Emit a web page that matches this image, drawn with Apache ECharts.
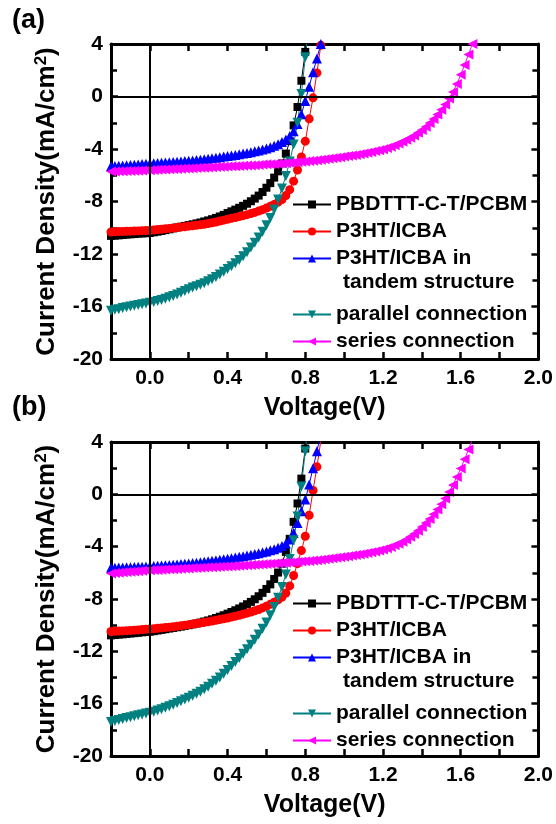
<!DOCTYPE html>
<html>
<head>
<meta charset="utf-8">
<script src="https://cdn.jsdelivr.net/npm/echarts@6/dist/echarts.min.js"></script>
<style>
  html, body { margin: 0; padding: 0; background: #fff; }
  #main { width: 556px; height: 824px; }
</style>
</head>
<body>
<div id="main"></div>
<script>
// measurement grid (V), 0.02 V steps
const voltage = [
  -0.2, -0.18, -0.16, -0.14, -0.12, -0.1, -0.08, -0.06, -0.04, -0.02,
  0, 0.02, 0.04, 0.06, 0.08, 0.1, 0.12, 0.14, 0.16, 0.18,
  0.2, 0.22, 0.24, 0.26, 0.28, 0.3, 0.32, 0.34, 0.36, 0.38,
  0.4, 0.42, 0.44, 0.46, 0.48, 0.5, 0.52, 0.54, 0.56, 0.58,
  0.6, 0.62, 0.64, 0.66, 0.68, 0.7, 0.72, 0.74, 0.76, 0.78,
  0.8, 0.82, 0.84, 0.86, 0.88, 0.9, 0.92, 0.94, 0.96, 0.98,
  1.0, 1.02, 1.04, 1.06, 1.08, 1.1, 1.12, 1.14, 1.16, 1.18,
  1.2, 1.22, 1.24, 1.26, 1.28, 1.3, 1.32, 1.34, 1.36, 1.38,
  1.4, 1.42, 1.44, 1.46, 1.48, 1.5, 1.52, 1.54, 1.56, 1.58,
  1.6, 1.62, 1.64, 1.66, 1.68
]

const names = ['PBDTTT-C-T/PCBM', 'P3HT/ICBA', 'P3HT/ICBA in tandem structure', 'parallel connection', 'series connection']

// panel (a) current density, mA/cm2
const blackA = [
  -10.62, -10.60, -10.58, -10.55, -10.52, -10.50, -10.48, -10.45, -10.43, -10.42,
  -10.40, -10.35, -10.30, -10.25, -10.18, -10.12, -10.05, -9.98, -9.92, -9.86,
  -9.80, -9.74, -9.67, -9.60, -9.52, -9.44, -9.35, -9.25, -9.14, -9.02,
  -8.88, -8.75, -8.62, -8.48, -8.33, -8.17, -7.98, -7.78, -7.55, -7.28,
  -6.95, -6.60, -6.18, -5.70, -5.10, -4.35, -3.40, -2.20, -0.80, 1.20,
  3.40, 6.00
]
const redA = [
  -10.32, -10.30, -10.29, -10.28, -10.27, -10.26, -10.25, -10.24, -10.22, -10.21,
  -10.20, -10.17, -10.14, -10.11, -10.08, -10.05, -10.02, -9.99, -9.95, -9.92,
  -9.88, -9.85, -9.81, -9.77, -9.73, -9.68, -9.62, -9.56, -9.49, -9.42,
  -9.35, -9.28, -9.22, -9.15, -9.08, -9.00, -8.92, -8.83, -8.73, -8.62,
  -8.50, -8.37, -8.22, -8.05, -7.85, -7.55, -7.10, -6.45, -5.60, -4.60,
  -3.40, -1.70, -0.10, 1.80, 3.90, 6.00
]
const blueA = [
  -5.32, -5.30, -5.28, -5.26, -5.24, -5.22, -5.20, -5.18, -5.15, -5.13,
  -5.11, -5.09, -5.07, -5.05, -5.03, -5.01, -4.99, -4.97, -4.95, -4.92,
  -4.90, -4.87, -4.84, -4.81, -4.78, -4.74, -4.70, -4.66, -4.62, -4.58,
  -4.54, -4.49, -4.45, -4.40, -4.35, -4.30, -4.24, -4.18, -4.11, -4.04,
  -3.96, -3.87, -3.76, -3.63, -3.47, -3.27, -3.00, -2.65, -2.10, -1.35,
  -0.35, 0.75, 1.85, 2.90, 4.00, 5.20
]
const tealA = [
  -16.32, -16.25, -16.20, -16.12, -16.05, -16.00, -15.95, -15.88, -15.82, -15.78,
  -15.72, -15.65, -15.58, -15.50, -15.40, -15.30, -15.20, -15.08, -14.95, -14.82,
  -14.68, -14.56, -14.45, -14.34, -14.22, -14.08, -13.92, -13.75, -13.56, -13.36,
  -13.15, -12.93, -12.70, -12.45, -12.17, -11.86, -11.50, -11.15, -10.75, -10.30,
  -9.80, -9.25, -8.60, -7.85, -7.00, -6.05, -4.95, -3.65, -2.00, 0.20,
  3.00, 6.00
]
const pinkA = [
  -5.72, -5.71, -5.70, -5.69, -5.68, -5.67, -5.66, -5.65, -5.63, -5.62,
  -5.61, -5.60, -5.58, -5.57, -5.56, -5.54, -5.53, -5.52, -5.50, -5.49,
  -5.48, -5.46, -5.45, -5.43, -5.42, -5.41, -5.39, -5.38, -5.36, -5.35,
  -5.34, -5.32, -5.31, -5.29, -5.28, -5.26, -5.25, -5.23, -5.21, -5.19,
  -5.17, -5.16, -5.14, -5.12, -5.10, -5.08, -5.06, -5.03, -5.01, -4.98,
  -4.95, -4.92, -4.89, -4.86, -4.82, -4.78, -4.74, -4.70, -4.66, -4.62,
  -4.58, -4.54, -4.49, -4.45, -4.40, -4.35, -4.29, -4.23, -4.16, -4.09,
  -4.01, -3.92, -3.82, -3.71, -3.58, -3.44, -3.30, -3.14, -2.97, -2.77,
  -2.55, -2.30, -2.02, -1.72, -1.38, -1.00, -0.60, -0.15, 0.35, 0.95,
  1.65, 2.40, 3.20, 4.00, 4.90
]

// panel (b)
const blackB = [
  -10.78, -10.75, -10.72, -10.70, -10.67, -10.64, -10.61, -10.58, -10.55, -10.52,
  -10.50, -10.46, -10.41, -10.36, -10.31, -10.26, -10.21, -10.16, -10.11, -10.05,
  -10.00, -9.94, -9.87, -9.80, -9.72, -9.64, -9.55, -9.45, -9.35, -9.24,
  -9.12, -8.99, -8.86, -8.72, -8.57, -8.40, -8.22, -8.02, -7.79, -7.53,
  -7.23, -6.88, -6.47, -5.98, -5.30, -4.40, -3.40, -2.10, -0.70, 1.20,
  3.50, 6.00
]
const redB = [
  -10.48, -10.47, -10.45, -10.44, -10.42, -10.40, -10.38, -10.36, -10.34, -10.32,
  -10.30, -10.27, -10.24, -10.21, -10.18, -10.15, -10.12, -10.08, -10.04, -10.00,
  -9.96, -9.92, -9.88, -9.84, -9.79, -9.74, -9.69, -9.63, -9.57, -9.51,
  -9.45, -9.38, -9.31, -9.24, -9.16, -9.08, -8.99, -8.90, -8.80, -8.68,
  -8.55, -8.41, -8.25, -8.07, -7.86, -7.55, -7.00, -6.20, -5.30, -4.30,
  -3.20, -1.60, 0.30, 2.10, 4.10, 6.00
]
const blueB = [
  -5.62, -5.61, -5.60, -5.59, -5.58, -5.57, -5.56, -5.54, -5.53, -5.51,
  -5.50, -5.48, -5.46, -5.44, -5.42, -5.40, -5.38, -5.36, -5.33, -5.31,
  -5.28, -5.25, -5.22, -5.19, -5.16, -5.12, -5.08, -5.04, -5.00, -4.96,
  -4.92, -4.88, -4.83, -4.78, -4.73, -4.68, -4.62, -4.56, -4.50, -4.43,
  -4.36, -4.28, -4.19, -4.08, -3.94, -3.76, -3.45, -2.95, -2.20, -1.30,
  -0.40, 0.75, 2.00, 3.30, 4.60
]
const tealB = [
  -17.40, -17.32, -17.25, -17.17, -17.10, -17.03, -16.96, -16.89, -16.82, -16.76,
  -16.70, -16.62, -16.52, -16.42, -16.32, -16.20, -16.08, -15.95, -15.82, -15.68,
  -15.55, -15.40, -15.25, -15.08, -14.90, -14.70, -14.48, -14.25, -14.00, -13.72,
  -13.42, -13.12, -12.82, -12.50, -12.18, -11.85, -11.50, -11.12, -10.72, -10.28,
  -9.80, -9.25, -8.62, -7.90, -7.08, -6.12, -4.95, -3.50, -1.70, 0.60,
  3.30, 6.00
]
const pinkB = [
  -6.05, -6.02, -5.99, -5.96, -5.93, -5.91, -5.89, -5.87, -5.85, -5.83,
  -5.81, -5.79, -5.78, -5.76, -5.75, -5.73, -5.72, -5.70, -5.69, -5.67,
  -5.66, -5.64, -5.63, -5.61, -5.60, -5.58, -5.57, -5.55, -5.54, -5.52,
  -5.51, -5.49, -5.47, -5.46, -5.44, -5.42, -5.40, -5.39, -5.37, -5.35,
  -5.33, -5.31, -5.29, -5.27, -5.25, -5.23, -5.21, -5.19, -5.17, -5.14,
  -5.12, -5.09, -5.06, -5.03, -5.00, -4.96, -4.93, -4.89, -4.85, -4.81,
  -4.77, -4.73, -4.68, -4.64, -4.59, -4.54, -4.48, -4.42, -4.36, -4.29,
  -4.21, -4.12, -4.02, -3.90, -3.77, -3.62, -3.45, -3.25, -3.03, -2.78,
  -2.50, -2.20, -1.88, -1.53, -1.16, -0.76, -0.32, 0.18, 0.72, 1.32,
  1.98, 2.68, 3.42, 4.20
]

const xLabelValues = [0, 0.4, 0.8, 1.2, 1.6, 2.0]
const xTickValues = [0, 0.2, 0.4, 0.6, 0.8, 1.0, 1.2, 1.4, 1.6, 1.8, 2.0]

const FONT = 'Liberation Sans, Arial, sans-serif'
const colors = ['#000000', '#ff0000', '#0000ff', '#008080', '#ff00ff']
const symbols = ['rect', 'circle', 'triangle', 'triangle', 'triangle']
const rotations = [0, 0, 0, 180, 90]
const sizes = [8, 9, 10, 10, 10]

const grids = [
  { left: 111, top: 44, width: 428, height: 315 },
  { left: 111, top: 442, width: 428, height: 314 }
]

function pts (js) {
  return js.map((j, i) => [voltage[i], j])
}

const frame = { onZero: false, lineStyle: { color: '#000', width: 3 } }
const tick = { inside: true, length: 7, lineStyle: { width: 2.5, color: '#000' } }
const labelStyle = { color: '#000', fontSize: 21, fontWeight: 'bold', fontFamily: FONT }

const xAxis = []
const yAxis = []
const series = []
const legend = []
const panelData = [
  [blackA, redA, blueA, tealA, pinkA],
  [blackB, redB, blueB, tealB, pinkB]
]
const legendRows = [[189, 299], [588, 698]]

grids.forEach((g, gi) => {
  xAxis.push({
    type: 'value', gridIndex: gi, min: -0.2, max: 2.0, position: 'bottom',
    axisLine: frame,
    axisTick: { ...tick, customValues: xTickValues },
    axisLabel: { customValues: xLabelValues, formatter: v => v.toFixed(1), margin: 9, ...labelStyle },
    splitLine: { show: false },
    name: 'Voltage(V)', nameLocation: 'middle', nameGap: 37,
    nameTextStyle: { color: '#000', fontSize: 25, fontWeight: 'bold', fontFamily: FONT }
  })
  xAxis.push({
    type: 'value', gridIndex: gi, min: -0.2, max: 2.0, position: 'top',
    axisLine: frame,
    axisTick: { ...tick, customValues: xTickValues },
    axisLabel: { show: false },
    splitLine: { show: false }
  })
  yAxis.push({
    type: 'value', gridIndex: gi, min: -20, max: 4, interval: 4, position: 'left',
    axisLine: frame,
    axisTick: tick,
    minorTick: { show: true, splitNumber: 2, length: 6, lineStyle: { width: 2.5, color: '#000' } },
    axisLabel: { margin: 8, ...labelStyle },
    splitLine: { show: false },
    name: 'Current Density(mA/cm{sup|2})', nameLocation: 'middle', nameRotate: 90, nameGap: 50,
    nameTextStyle: {
      color: '#000', fontSize: 26, fontWeight: 'bold', fontFamily: FONT, lineHeight: 28,
      rich: { sup: { fontSize: 17, fontWeight: 'bold', fontFamily: FONT, color: '#000', verticalAlign: 'top', lineHeight: 16 } }
    }
  })
  yAxis.push({
    type: 'value', gridIndex: gi, min: -20, max: 4, interval: 4, position: 'right',
    axisLine: frame,
    axisTick: tick,
    minorTick: { show: true, splitNumber: 2, length: 6, lineStyle: { width: 2.5, color: '#000' } },
    axisLabel: { show: false },
    splitLine: { show: false }
  })

  panelData[gi].forEach((js, si) => {
    const s = {
      name: names[si], type: 'line', xAxisIndex: gi * 2, yAxisIndex: gi * 2,
      data: pts(js), clip: true,
      symbol: symbols[si], symbolSize: sizes[si], symbolRotate: rotations[si],
      showAllSymbol: true,
      itemStyle: { color: colors[si] },
      lineStyle: { color: colors[si], width: 1 }
    }
    if (si === 0) {
      s.markLine = {
        silent: true, symbol: ['none', 'none'], label: { show: false },
        lineStyle: { color: '#000', width: 2, type: 'solid' },
        data: [{ xAxis: 0 }, { yAxis: 0 }]
      }
    }
    series.push(s)
  })

  const legendBase = {
    orient: 'vertical', left: 287, itemWidth: 38, itemHeight: 10, itemGap: 6,
    selectedMode: false,
    textStyle: { color: '#000', fontSize: 21, fontWeight: 'bold', fontFamily: FONT, lineHeight: 21 },
    formatter: n => (n === names[2] ? 'P3HT/ICBA in' : n)
  }
  legend.push({ ...legendBase, top: legendRows[gi][0], data: names.slice(0, 3) })
  legend.push({ ...legendBase, top: legendRows[gi][1], data: names.slice(3) })
})

const chart = echarts.init(document.getElementById('main'))
chart.setOption({
  animation: false,
  backgroundColor: '#fff',
  grid: grids,
  xAxis: xAxis,
  yAxis: yAxis,
  legend: legend,
  series: series,
  graphic: [
    { type: 'text', left: 12, top: 7, style: { text: '(a)', fontSize: 27, fontWeight: 'bold', fontFamily: FONT, fill: '#000' } },
    { type: 'text', left: 12, top: 394, style: { text: '(b)', fontSize: 27, fontWeight: 'bold', fontFamily: FONT, fill: '#000' } },
    { type: 'text', left: 343, top: 272, style: { text: 'tandem structure', fontSize: 21, fontWeight: 'bold', fontFamily: FONT, fill: '#000' } },
    { type: 'text', left: 343, top: 671, style: { text: 'tandem structure', fontSize: 21, fontWeight: 'bold', fontFamily: FONT, fill: '#000' } }
  ]
})
</script>
</body>
</html>
